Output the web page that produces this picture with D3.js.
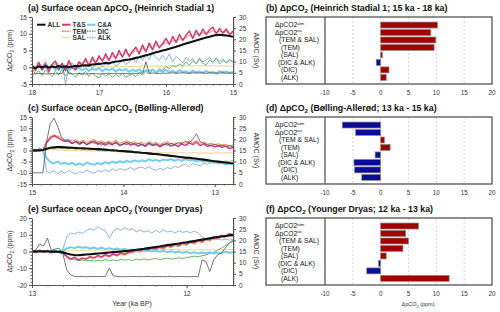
<!DOCTYPE html>
<html><head><meta charset="utf-8">
<script src="https://cdn.jsdelivr.net/npm/d3@7"></script>
<style>body{margin:0;background:#fff}svg{display:block}text{font-family:"Liberation Sans",Arial,sans-serif}</style>
</head><body><svg id="c" width="500" height="312"></svg>
<script>
// ---------- DATA ----------
// Panel (a) Heinrich Stadial 1 : time (ka BP)
const tA=[18,17.95,17.9,17.85,17.8,17.75,17.7,17.65,17.6,17.55,17.5,17.45,17.4,17.35,17.3,17.25,17.2,17.15,17.1,17.05,17,16.95,16.9,16.85,16.8,16.75,16.7,16.65,16.6,16.55,16.5,16.45,16.4,16.35,16.3,16.25,16.2,16.15,16.1,16.05,16,15.95,15.9,15.85,15.8,15.75,15.7,15.65,15.6,15.55,15.5,15.45,15.4,15.35,15.3,15.25,15.2,15.15,15.1,15.05,15];
const allA=[0.1,-0.2,0.2,0.0,0.3,-0.1,0.2,0.0,0.4,0.1,0.3,0.0,0.2,0.4,0.3, 0.5,0.6,0.5,0.8,0.9,1.0, 1.1,1.3,1.2,1.5,1.7,1.8,2.0,2.2,2.3,2.5, 2.8,3.0,3.3,3.6,3.8,4.2,4.5,4.7,5.0,5.2, 5.5,5.8,6.1,6.4,6.8,7.1,7.4,7.7,8.0,8.3, 8.6,8.9,9.1,9.4,9.6,9.7,9.6,9.5,9.3,9.1];
const tsA=[0.8,-1.0,1.5,-0.8,1.0,-1.4,0.9,1.8,-0.8,1.2,-1.0,2.0,0.0,-0.8,1.6, 0.6,2.6,0.4,3.0,1.2,3.4, 1.8,4.0,2.0,4.4,2.6,5.0,3.0,5.4,3.2,4.8, 6.0,4.0,6.6,4.6,7.2,5.2,7.8,5.8,7.0,8.6, 6.8,9.2,7.4,9.8,8.0,9.6,10.8,8.6,11.0,9.4, 11.4,9.8,11.2,12.0,10.0,11.6,10.2,11.4,9.8,10.8];
const caA=[0.0,-0.6,0.5,-0.8,0.2,-0.5,0.4,-0.9,0.1,-0.4,0.3,-1.0,0.0,-0.6,-0.2, -0.9,-0.3,-1.1,-0.4,-0.8,-0.2, -1.2,-0.5,-0.9,-0.4,-1.3,-0.6,-1.0,-0.5,-1.4,-0.8, -1.2,-0.6,-1.5,-0.9,-1.1,-0.7,-1.6,-1.0,-1.3,-0.8, -1.5,-1.1,-1.7,-0.9,-1.4,-1.2,-1.8,-1.0,-1.5,-1.3, -1.7,-1.1,-1.6,-1.4,-1.9,-1.2,-1.5,-1.3,-1.7,-1.4];
const temA=[0.2,-0.5,0.8,0.0,0.5,-0.6,0.3,1.0,0.0,0.6,-0.2,1.2,0.4,0.1,1.0, 0.8,1.8,1.0,2.0,1.5,2.6, 2.0,3.0,2.4,3.4,3.0,4.0,3.4,4.4,3.8,4.2, 5.0,4.6,5.6,5.0,6.2,5.6,6.8,6.2,6.8,7.4, 7.0,8.0,7.6,8.6,8.2,8.8,9.6,9.0,10.0,9.6, 10.4,10.0,10.4,11.0,10.2,10.8,10.4,10.6,10.0,10.2];
const salA=[0.0,0.1,-0.1,0.0,0.1,0.0,-0.1,0.1,0.0,0.1,-0.1,0.0,0.1,0.0,0.1, 0.0,0.2,0.1,0.0,0.2,0.1, 0.2,0.0,0.2,0.1,0.3,0.1,0.2,0.3,0.1,0.3, 0.2,0.3,0.4,0.2,0.3,0.4,0.3,0.2,0.4,0.3, 0.4,0.3,0.5,0.4,0.3,0.5,0.4,0.3,0.5,0.4, 0.5,0.3,0.4,0.5,0.4,0.3,0.5,0.4,0.3,0.4];
const dicA=[-0.5,-2.0,-1.0,-2.5,-0.8,-1.8,-2.8,-1.2,-2.2,-0.6,-2.6,-1.4,-2.0,-3.0,-1.6, -2.4,-1.2,-2.8,-1.8,-2.6,-3.2, -1.8,-2.6,-2.0,-3.0,-2.2,-2.8,-1.8,-3.0,-2.4,-2.0, -2.8,-1.6,-2.4,-1.2,-2.0,-0.8,-1.4,-0.4,-1.0,0.2, -0.4,0.6,0.0,1.0,0.4,1.6,0.6,2.0,1.0,2.4, 1.2,0.6,2.2,1.4,2.8,1.0,2.0,1.4,2.4,1.6];
const alkA=[0.8,-0.4,1.5,0.2,1.8,-0.2,1.0,2.0,0.4,1.2,-5.0,0.6,1.4,0.0,1.0, 1.6,0.2,1.2,-0.4,0.8,1.4, 0.0,1.2,0.6,1.8,0.4,1.0,2.2,0.8,1.6,2.8, 1.4,3.4,2.0,3.8,2.4,4.2,3.0,2.0,3.6,2.2, 4.0,1.6,3.2,2.4,1.2,3.0,1.8,2.6,1.0,2.8, 1.6,2.2,3.0,1.4,2.6,1.8,2.4,1.2,2.0,1.6];
const amocA=[4.6,4.5,4.7,4.6,4.5,4.6,4.7,4.5,4.6,4.7,8.0,4.6,4.5,4.6,4.7, 4.6,4.5,4.6,4.7,4.6,4.5, 4.6,4.7,4.8,4.6,4.7,4.6,4.8,4.7,4.6,4.8, 4.7,4.9,4.8,10.0,4.8,4.9,4.8,4.7,4.9,4.8, 4.9,5.0,4.8,4.9,5.0,4.9,4.8,5.0,4.9,5.0, 4.9,4.8,5.0,4.9,4.8,4.9,5.0,4.8,4.9,4.8];

// Panel (c) Bolling-Allerod
const tC=[15,14.96,14.92,14.88,14.84,14.8,14.76,14.72,14.68,14.64,14.6,14.56,14.52,14.48,14.44,14.4,14.36,14.32,14.28,14.24,14.2,14.16,14.12,14.08,14.04,14,13.96,13.92,13.88,13.84,13.8,13.76,13.72,13.68,13.64,13.6,13.56,13.52,13.48,13.44,13.4,13.36,13.32,13.28,13.24,13.2,13.16,13.12,13.08,13.04,13,12.96,12.92,12.88,12.84,12.8];
const allC=[0.0,0.1,0.0,0.2, 0.8,1.2,1.4,1.5,1.5,1.4, 1.3,1.2,1.1,1.0,1.0,0.9,0.8,0.7,0.6,0.5, 0.4,0.2,0.1,0.0,-0.2,-0.3,-0.4,-0.5,-0.7,-0.8, -1.0,-1.1,-1.3,-1.5,-1.6,-1.8,-2.0,-2.2,-2.4,-2.6, -2.8,-3.0,-3.2,-3.3,-3.5,-3.7,-3.9,-4.1,-4.3,-4.6, -4.8,-5.0,-5.2,-5.4,-5.6,-5.7];
const tsC=[0.4,-0.3,0.5,0.1, 3.5,5.5,6.6,5.8,4.8,4.0, 4.4,3.2,4.0,2.8,3.8,2.6,3.4,4.2,2.8,3.6, 2.4,3.2,2.6,3.8,2.2,3.0,3.6,2.4,3.2,2.0, 2.8,1.8,3.2,2.2,2.8,1.6,2.6,3.2,2.0,2.6, 1.8,3.0,2.2,3.4,2.6,3.8,2.2,3.0,1.8,2.4, 1.6,2.2,1.4,2.0,0.8,1.4];
const caC=[0.3,-0.2,0.4,0.0, -3.5,-5.2,-5.8,-5.0,-6.0,-5.4, -6.2,-5.6,-6.4,-5.8,-6.6,-5.4,-6.0,-6.4,-5.6,-6.2, -5.2,-5.8,-5.0,-5.6,-4.8,-5.4,-4.6,-5.2,-4.4,-5.0, -4.4,-4.8,-4.0,-4.6,-4.2,-4.8,-4.0,-4.4,-3.8,-4.6, -4.0,-4.6,-3.8,-4.4,-4.2,-4.8,-4.4,-5.0,-4.6,-5.4, -5.0,-5.8,-5.4,-6.2,-5.8,-6.0];
const temC=[0.3,-0.1,0.6,0.2, 4.0,6.2,7.0,6.4,5.6,4.8, 5.0,4.2,4.8,3.8,4.6,3.6,4.2,5.0,3.8,4.4, 3.4,4.0,3.6,4.6,3.2,3.8,4.4,3.4,4.0,3.0, 3.8,2.8,4.0,3.2,3.6,2.6,3.4,4.0,3.0,3.4, 2.8,3.8,3.2,4.2,3.4,4.6,3.2,3.8,2.8,3.2, 2.6,3.0,2.4,2.8,2.0,2.4];
const salC=[0.0,0.1,0.0,0.1, 0.3,0.4,0.3,0.2,0.2,0.1, 0.0,0.1,0.0,-0.1,0.0,-0.2,-0.1,-0.3,-0.2,-0.4, -0.3,-0.5,-0.4,-0.6,-0.5,-0.7,-0.6,-0.8,-0.7,-0.8, -0.9,-0.8,-1.0,-0.9,-1.0,-1.1,-1.0,-1.1,-1.0,-1.2, -1.1,-1.0,-1.2,-1.1,-1.0,-1.1,-1.2,-1.0,-1.1,-1.2, -1.1,-1.0,-1.2,-1.1,-1.0,-1.1];
const dicC=[0.0,0.4,-0.2,0.3, 0.8,1.2,0.9,1.4,1.0,1.2, 0.8,1.2,0.6,1.0,0.4,0.8,0.2,0.6,0.0,0.4, -0.2,0.2,-0.4,0.0,-0.6,-0.2,-0.8,-0.6,-1.2,-1.0, -1.4,-1.2,-1.8,-1.4,-2.0,-1.8,-2.4,-2.0,-2.6,-2.4, -2.8,-2.6,-3.2,-3.0,-3.6,-3.4,-4.0,-3.8,-4.6,-4.4, -5.0,-5.4,-5.2,-6.0,-5.8,-6.4];
const alkC=[0.8,-0.5,1.2,0.2, -9.5,-10.0,-9.0,-10.4,-9.2,-10.2, -9.0,-9.8,-10.6,-9.4,-10.0,-8.8,-9.6,-10.2,-9.0,-9.6, -8.6,-9.4,-8.2,-9.2,-8.0,-8.8,-8.4,-7.6,-8.6,-7.8, -7.4,-8.2,-7.2,-8.4,-8.8,-8.0,-8.6,-7.6,-8.2,-7.0, -7.6,-6.8,-6.0,-7.2,-5.8,-6.4,-6.8,-5.6,-6.2,-5.2, -5.8,-4.8,-5.4,-4.6,-5.0,-4.4];
const amocC=[5.0,5.0,5.0,5.1, 19.0,27.0,29.5,26.0,21.0,19.5, 19.0,18.0,19.2,18.4,18.8,17.6,19.0,18.2,18.6,17.4, 18.2,18.8,17.8,18.4,17.2,18.0,17.6,18.6,17.4,18.2, 17.8,17.2,18.4,17.6,18.0,17.0,17.8,17.4,18.2,17.6, 18.6,18.0,19.2,18.4,20.0,22.5,19.0,18.2,17.6,17.2, 17.8,17.0,17.4,16.8,17.2,16.6];

// Panel (e) Younger Dryas
const tE=[13,12.975,12.95,12.925,12.9,12.875,12.85,12.825,12.8,12.775,12.75,12.725,12.7,12.675,12.65,12.625,12.6,12.575,12.55,12.525,12.5,12.475,12.45,12.425,12.4,12.375,12.35,12.325,12.3,12.275,12.25,12.225,12.2,12.175,12.15,12.125,12.1,12.075,12.05,12.025,12,11.975,11.95,11.925,11.9,11.875,11.85,11.825,11.8,11.775,11.75,11.725,11.7];
const allE=[0.0,0.1,0.0,0.1,0.0,-0.1,0.0,-0.2,-0.5, -1.2,-1.8,-2.1,-2.2,-2.0,-1.8,-1.6, -1.4,-1.2,-1.0,-0.8,-0.6,-0.4,-0.2,0.0,0.2,0.4, 0.7,1.0,1.3,1.6,2.0,2.3,2.7,3.0,3.4,3.8, 4.1,4.5,4.8,5.2,5.5,5.9,6.3,6.7,7.1,7.5, 7.9,8.3,8.7,9.0,9.3,9.6,9.8];
const tsE=[0.4,-0.6,0.8,-0.4,0.6,-0.8,0.2,-0.5,-1.0, -3.0,-4.6,-3.4,-5.0,-3.8,-4.4,-3.0, -3.8,-2.4,-3.2,-1.8,-2.8,-1.4,-2.2,-0.8,-1.6,-0.4, -0.2,1.0,0.4,1.8,1.0,2.4,1.6,3.0,2.2,3.8, 3.0,4.4,3.6,5.2,4.4,6.0,5.2,6.8,6.0,7.6, 7.0,8.6,8.0,9.6,9.0,10.6,10.2];
const caE=[0.2,-0.4,0.5,-0.2,0.4,-0.3,0.3,0.0,0.6, 1.8,2.6,2.0,2.8,2.2,2.6,1.8, 2.4,1.6,2.2,1.4,2.0,1.2,1.8,1.0,1.6,0.8, 1.2,0.6,1.0,0.2,0.8,0.0,0.6,-0.2,0.4,-0.4, 0.2,-0.6,0.0,-0.8,-0.2,-1.0,-0.4,-1.2,-0.6,-1.0, -0.4,-1.2,-0.6,-1.0,-0.2,-0.8,-0.4];
const temE=[0.2,-0.4,0.6,-0.2,0.4,-0.6,0.1,-0.4,-1.2, -3.4,-5.0,-4.0,-5.4,-4.4,-4.8,-3.6, -4.2,-3.0,-3.8,-2.4,-3.4,-2.0,-2.8,-1.4,-2.2,-1.0, -0.8,0.2,-0.4,1.0,0.2,1.6,0.8,2.2,1.4,3.0, 2.2,3.6,2.8,4.4,3.6,5.2,4.4,6.0,5.2,6.8, 6.2,7.8,7.2,8.8,8.2,9.8,9.4];
const salE=[0.0,0.0,0.1,0.0,0.1,0.0,0.1,0.0,0.2, 0.4,0.5,0.6,0.6,0.7,0.7,0.8, 0.8,0.8,0.9,0.9,0.9,1.0,1.0,1.0,1.0,1.0, 1.1,1.0,1.1,1.0,1.1,1.1,1.0,1.1,1.1,1.0, 1.1,1.1,1.0,1.1,1.0,1.1,1.0,1.1,1.0,1.0, 1.1,1.0,1.1,1.0,1.1,1.0,1.1];
const dicE=[0.0,0.2,-0.1,0.3,0.0,0.2,-0.2,0.1,-0.5, -2.5,-4.2,-4.8,-5.4,-5.0,-5.6,-5.2, -5.8,-5.2,-5.6,-4.8,-5.4,-5.0,-5.6,-4.6,-5.2,-4.8, -5.4,-4.6,-5.0,-4.4,-5.0,-4.6,-4.2,-4.8,-4.4,-4.0, -4.6,-4.2,-3.8,-4.2,-3.6,-3.2,-2.8,-3.0,-2.6,-2.0, -1.2,-0.4,0.8,2.0,3.4,5.0,7.0];
const alkE=[0.3,-0.2,0.5,0.0,0.4,-0.3,0.6,0.2,1.5, 9.0,11.0,10.4,11.6,10.8,12.4,13.6, 12.6,14.8,13.4,12.2,8.2,12.0,13.8,12.6,14.2,12.8, 13.6,11.8,12.8,11.6,12.4,11.0,12.6,11.4,12.8,11.6, 12.2,11.0,12.4,11.4,12.0,11.2,12.2,11.0,9.0,7.2, 8.0,7.0,7.6,6.8,7.4,6.8,7.2];
const amocE=[15.0,15.8,18.4,17.4,21.0,15.4,16.1,16.5,13.9, 6.8,4.5,3.9,3.75,3.8,3.7,3.8, 3.75,3.8,3.7,3.9,7.6,4.1,3.8,3.75,3.7,3.8, 3.75,3.8,3.7,3.75,3.8,3.7,3.75,3.8,3.7,3.75, 3.8,3.7,3.75,3.8,3.7,3.75,3.8,3.7,11.25,10.5, 6.0,11.25,13.5,14.25,16.5,18.75,19.5];

// Bar panels
const barMain=["ΔpCO2","ΔpCO2","(TEM & SAL)","(TEM)","(SAL)","(DIC & ALK)","(DIC)","(ALK)"];
const barSup=["atm","os","","","","","",""];
const barsB=[10.2,9.0,9.9,9.6,0.3,-0.8,1.5,1.0];
const barsD=[-6.9,-4.5,0.66,1.7,-1.0,-4.8,-4.7,-3.4];
const barsF=[6.8,4.5,5.0,4.0,1.0,-0.4,-2.5,12.3];
const barTicks=[-10,-5,0,5,10,15,20];

const ticksYA=[-5,0,5,10,15], ticksYC=[-15,-10,-5,0,5,10,15], ticksYE=[-20,-10,0,10,20];
const ticksXA=[18,17,16,15], ticksXC=[15,14,13], ticksXE=[13,12];
const ticksAmoc=[0,5,10,15,20,25,30];
const legendNames=["ALL","T&S","C&A","TEM","DIC","SAL","ALK"];

// ---------- DRAWING ----------
const svg=d3.select("#c");
const PX0=32,PX1=233,PH=67;
const AX="#555", TX="#333";
const style={
  all:{c:"#111",w:2.1,d:null},
  ts:{c:"#cc3d7c",w:1.5,d:null},
  ca:{c:"#74cdee",w:2,d:null},
  tem:{c:"#ee7a3a",w:0.9,d:"3,1"},
  sal:{c:"#e6cf7c",w:0.9,d:"3,1"},
  dic:{c:"#55ad55",w:0.9,d:"3,1"},
  alk:{c:"#88a6d2",w:0.9,d:"3,1"},
  amoc:{c:"#505050",w:0.8,d:null}
};

function rich(g,x,y,parts,size,attrs){
  const t=g.append("text").attr("x",x).attr("y",y).attr("font-size",size);
  for(const k in (attrs||{})) t.attr(k,attrs[k]);
  let shift=0;
  parts.forEach(([s,kind])=>{
    const ts=t.append("tspan").text(s);
    let target=0, fs=size;
    if(kind==="sub"){target=size*0.28;fs=size*0.7;}
    if(kind==="sup"){target=-size*0.38;fs=size*0.62;}
    ts.attr("font-size",fs);
    if(target!==shift){ts.attr("dy",target-shift);shift=target;}
  });
  return t;
}

function styleAxis(a){
  a.select(".domain").attr("stroke",AX).attr("stroke-width",1);
  a.selectAll(".tick line").attr("stroke",AX);
  a.selectAll(".tick text").attr("fill",TX).attr("font-size",6.6).attr("font-family",'"Liberation Sans",Arial,sans-serif');
}

function drawTS(p,idx){
  const top=p.top, bot=top+PH;
  const x=d3.scaleLinear().domain(p.xd).range([PX0,PX1]);
  const y=d3.scaleLinear().domain(p.yd).range([bot,top]);
  const yr=d3.scaleLinear().domain([0,30]).range([bot,top]);
  const g=svg.append("g");
  const cid="clip"+idx;
  svg.append("clipPath").attr("id",cid).append("rect").attr("x",PX0).attr("y",top).attr("width",PX1-PX0).attr("height",PH);
  const lg=g.append("g").attr("clip-path",`url(#${cid})`);
  const order=["sal","tem","dic","alk","ca","ts","amoc","all"];
  order.forEach(k=>{
    const vals=p.s[k], sc=(k==="amoc")?yr:y;
    const pts=d3.zip(p.t,vals);
    const line=d3.line().x(d=>x(d[0])).y(d=>sc(d[1]));
    const st=style[k];
    lg.append("path").attr("d",line(pts)).attr("fill","none").attr("stroke",st.c).attr("stroke-width",st.w)
      .attr("stroke-linejoin","round");
  });
  // axes
  const minorY=d3.range(p.yd[0],p.yd[1]+0.001,p.ym);
  const minorX=d3.range(Math.min(...p.xd),Math.max(...p.xd)+0.001,0.1);
  const minorR=d3.range(0,30.001,1);
  const mk=(axis,tr)=>{const a=g.append("g").attr("transform",tr).call(axis);styleAxis(a);return a;};
  const m1=mk(d3.axisLeft(y).tickValues(minorY).tickSize(1.5).tickFormat("").tickSizeOuter(0),`translate(${PX0},0)`); m1.select(".domain").remove();
  const m2=mk(d3.axisBottom(x).tickValues(minorX).tickSize(1.5).tickFormat("").tickSizeOuter(0),`translate(0,${bot})`); m2.select(".domain").remove();
  const m3=mk(d3.axisRight(yr).tickValues(minorR).tickSize(1.5).tickFormat("").tickSizeOuter(0),`translate(${PX1},0)`); m3.select(".domain").remove();
  mk(d3.axisLeft(y).tickValues(p.yt).tickSize(3).tickPadding(2).tickSizeOuter(0).tickFormat(d=>String(d)),`translate(${PX0},0)`);
  mk(d3.axisBottom(x).tickValues(p.xt).tickSize(3).tickPadding(3).tickSizeOuter(0).tickFormat(d=>String(d)),`translate(0,${bot})`);
  mk(d3.axisRight(yr).tickValues(ticksAmoc).tickSize(3).tickPadding(3).tickSizeOuter(0).tickFormat(d=>String(d)),`translate(${PX1},0)`);
  // labels
  rich(g,0,0,[["ΔpCO",""],["2","sub"],[" (ppm)",""]],7,{"text-anchor":"middle",fill:TX,transform:`translate(12,${top+PH/2}) rotate(-90)`});
  g.append("text").attr("text-anchor","middle").attr("font-size",7).attr("fill",TX)
    .attr("transform",`translate(254,${top+PH/2}) rotate(90)`).text("AMOC (Sv)");
  rich(g,28,top-6,[[p.letter+" Surface ocean ΔpCO",""],["2","sub"],["  "+p.period,""]],8.8,{"font-weight":"bold",fill:"#111"});
}

function drawBars(p){
  const top=p.top, bot=top+PH;
  const g=svg.append("g");
  const x=d3.scaleLinear().domain([-10,20]).range([325,492]);
  const y=d3.scaleBand().domain(d3.range(8)).range([top+4.3,top+64.1]).paddingInner(0.2).paddingOuter(0.1);
  // grid
  g.selectAll(".gr").data([-5,0,5,10,15]).join("line").attr("x1",d=>x(d)).attr("x2",d=>x(d))
    .attr("y1",top).attr("y2",bot).attr("stroke","#c4c4c4").attr("stroke-width",0.7).attr("stroke-dasharray","2,2");
  g.append("line").attr("x1",x(-10)).attr("x2",x(-10)).attr("y1",top).attr("y2",bot).attr("stroke","#777").attr("stroke-width",1.6);
  // bars
  g.selectAll(".bar").data(p.v).join("rect")
    .attr("x",d=>x(Math.min(0,d))).attr("width",d=>Math.abs(x(d)-x(0)))
    .attr("y",(d,i)=>y(i)).attr("height",y.bandwidth())
    .attr("fill",d=>d>=0?"#a30000":"#0b0b95").attr("stroke","#8a8a8a").attr("stroke-width",0.7);
  // frame
  g.append("rect").attr("x",266).attr("y",top).attr("width",492-266).attr("height",PH)
    .attr("fill","none").attr("stroke","#555").attr("stroke-width",1.3);
  // row labels
  const lx=[275,275,279,281,281,278,281,281];
  barMain.forEach((m,i)=>{
    const parts=[[m,""]]; if(barSup[i]) parts.push([barSup[i],"sup"]);
    rich(g,lx[i],y(i)+y.bandwidth()/2+2.4,parts,6.8,{fill:"#111"});
  });
  // ticks labels
  g.selectAll(".tl").data(barTicks).join("text").attr("x",d=>x(d)).attr("y",bot+11).attr("text-anchor","middle")
    .attr("font-size",6.3).attr("fill",TX).text(d=>String(d));
  rich(g,266,top-6,[[p.letter+" ΔpCO",""],["2","sub"],["  "+p.period,""]],8.8,{"font-weight":"bold",fill:"#111"});
}

const tops=[17,117,218];
drawTS({top:tops[0],xd:[18,15],yd:[-5,15],ym:1,yt:ticksYA,xt:ticksXA,t:tA,letter:"(a)",period:"(Heinrich Stadial 1)",
  s:{all:allA,ts:tsA,ca:caA,tem:temA,sal:salA,dic:dicA,alk:alkA,amoc:amocA}},0);
drawTS({top:tops[1],xd:[15,12.8],yd:[-15,15],ym:1,yt:ticksYC,xt:ticksXC,t:tC,letter:"(c)",period:"(Bølling-Allerød)",
  s:{all:allC,ts:tsC,ca:caC,tem:temC,sal:salC,dic:dicC,alk:alkC,amoc:amocC}},1);
drawTS({top:tops[2],xd:[13,11.7],yd:[-20,20],ym:2,yt:ticksYE,xt:ticksXE,t:tE,letter:"(e)",period:"(Younger Dryas)",
  s:{all:allE,ts:tsE,ca:caE,tem:temE,sal:salE,dic:dicE,alk:alkE,amoc:amocE}},2);

drawBars({top:tops[0],v:barsB,letter:"(b)",period:"(Heinrich Stadial 1; 15 ka - 18 ka)"});
drawBars({top:tops[1],v:barsD,letter:"(d)",period:"(Bølling-Allerød; 13 ka - 15 ka)"});
drawBars({top:tops[2],v:barsF,letter:"(f)",period:"(Younger Dryas; 12 ka - 13 ka)"});

// axis titles at bottom
svg.append("text").attr("x",132).attr("y",306).attr("text-anchor","middle").attr("font-size",7).attr("fill",TX).text("Year (ka BP)");
rich(svg,418,306,[["ΔpCO",""],["2","sub"],[" (ppm)",""]],5.5,{"text-anchor":"middle",fill:TX});

// legend (panel a)
const lgKeys=["all","ts","ca","tem","dic","sal","alk"];
const lgPos=[[37,24.7],[62,24.7],[87,24.7],[62,31.3],[87,31.3],[62,37.5],[87,37.5]];
const lgG=svg.append("g");
lgKeys.forEach((k,i)=>{
  const [lx,ly]=lgPos[i], st=style[k];
  lgG.append("line").attr("x1",lx).attr("x2",lx+8.5).attr("y1",ly).attr("y2",ly).attr("stroke",st.c)
    .attr("stroke-width",k==="all"||k==="ts"||k==="ca"?2:1.6).attr("stroke-dasharray",st.d?"1.5,1":null);
  lgG.append("text").attr("x",lx+10.5).attr("y",ly+2.3).attr("font-size",6.6).attr("font-weight","bold").attr("fill","#333").text(legendNames[i]);
});
</script>
</body></html>
